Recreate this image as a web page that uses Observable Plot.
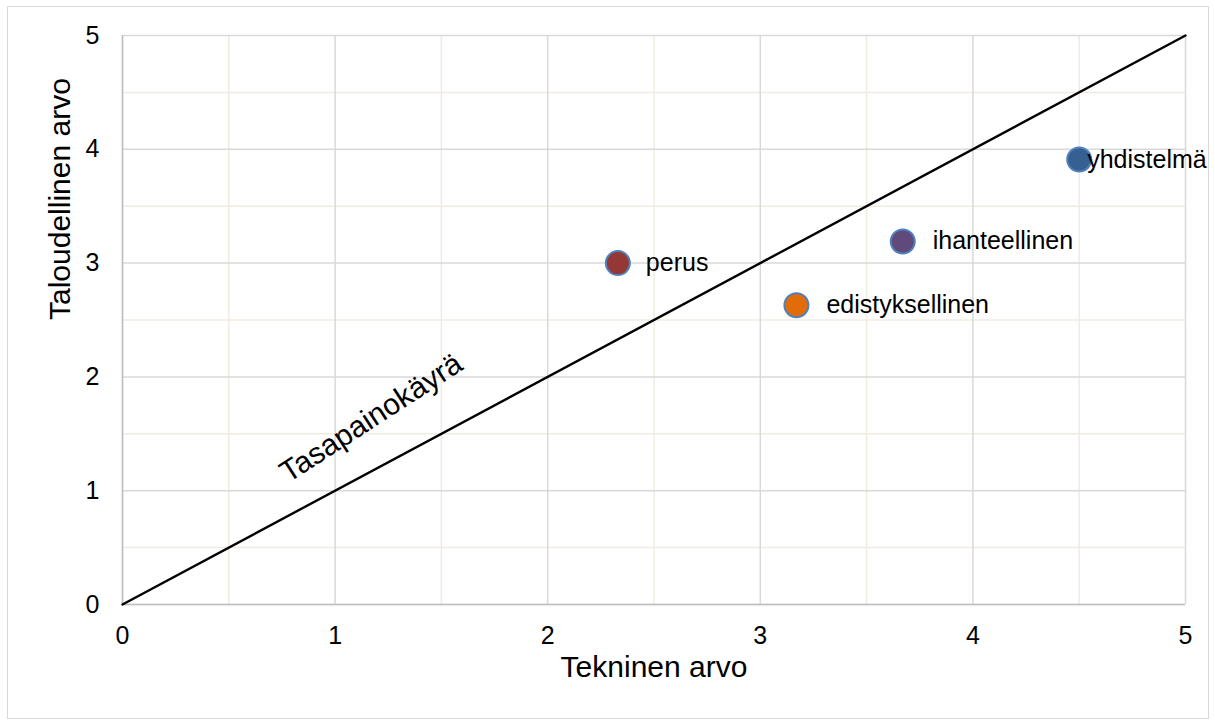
<!DOCTYPE html>
<html><head><meta charset="utf-8">
<script src="https://cdn.jsdelivr.net/npm/d3@7"></script>
<script src="https://cdn.jsdelivr.net/npm/@observablehq/plot@0.6"></script>
<style>
body{margin:0;background:#fff;font-family:"Liberation Sans",Arial,sans-serif;}
#wrap{position:relative;width:1215px;height:724px;}
#frame{position:absolute;left:7px;top:6px;width:1200px;height:711px;border:1px solid #d9d9d9;pointer-events:none;}
</style></head>
<body><div id="wrap"><div id="frame"></div></div>
<script>
const names = ["perus","edistyksellinen","ihanteellinen","yhdistelmä"];
const tekninen = [2.33, 3.17, 3.67, 4.5];
const taloudellinen = [3.0, 2.63, 3.19, 3.91];
const fills = ["#953735","#e36c0a","#604a7b","#376092"];
const labelDx = [28, 30, 30, 8];
const majorTicks = [0,1,2,3,4,5];
const minorTicks = [0.5,1.5,2.5,3.5,4.5];
const balanceLine = [0,5];
const balanceLabel = {text:"Tasapainokäyrä", x:1.17, y:1.64};

const points = names.map((n,i)=>({name:n,x:tekninen[i],y:taloudellinen[i],fill:fills[i],dx:labelDx[i]}));

const chart = Plot.plot({
  width:1215, height:724,
  marginLeft:122, marginRight:30, marginTop:35, marginBottom:120,
  style:{fontFamily:"Liberation Sans, Arial, sans-serif", fontSize:"25px", color:"#000", background:"transparent"},
  x:{domain:[0,5], label:null},
  y:{domain:[0,5], label:null},
  marks:[
    Plot.ruleX(minorTicks,{stroke:"#f0ece1", strokeWidth:1.5}),
    Plot.ruleY(minorTicks,{stroke:"#f0ece1", strokeWidth:1.5}),
    Plot.ruleX(majorTicks,{stroke:"#d9d9d9", strokeWidth:1.5}),
    Plot.ruleY(majorTicks,{stroke:"#d9d9d9", strokeWidth:1.5}),
    Plot.ruleX([0],{stroke:"#bfbfbf", strokeWidth:1.5}),
    Plot.ruleY([0],{stroke:"#bfbfbf", strokeWidth:1.5}),
    Plot.axisX(majorTicks,{tickSize:0, tickPadding:22, fontSize:25, tickFormat:d3.format("d"), label:null}),
    Plot.axisY(majorTicks,{tickSize:0, tickPadding:23, fontSize:25, tickFormat:d3.format("d"), label:null}),
    Plot.text(["Tekninen arvo"],{frameAnchor:"bottom", dy:72, fontSize:30}),
    Plot.text(["Taloudellinen arvo"],{frameAnchor:"left", dx:-62, rotate:-90, fontSize:30}),
    Plot.line(balanceLine.map(v=>({x:v,y:v})),{x:"x",y:"y",stroke:"#000",strokeWidth:2.4}),
    Plot.text([balanceLabel],{x:"x",y:"y",text:"text",rotate:-33,fontSize:30}),
    Plot.dot(points,{x:"x",y:"y",r:12,fill:"fill",stroke:"#4f81bd",strokeWidth:2}),
    ...points.map(p=>Plot.text([p],{x:"x",y:"y",text:"name",textAnchor:"start",dx:p.dx,fontSize:25}))
  ]
});
document.getElementById("wrap").appendChild(chart);
</script></body></html>
